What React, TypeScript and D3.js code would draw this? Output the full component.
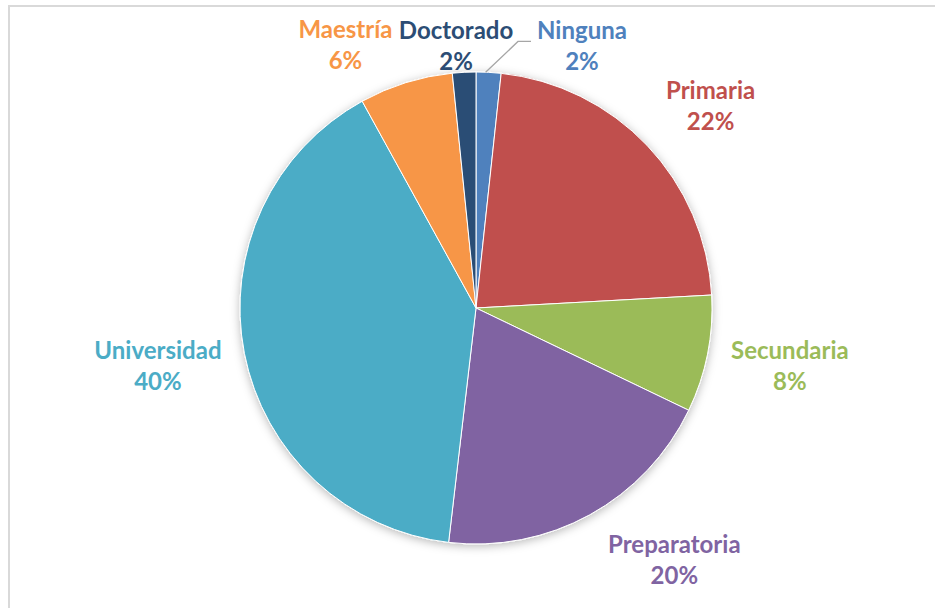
import { useMemo } from "react";
import { pie, arc, PieArcDatum } from "d3";

// Nivel de estudios (in %)
const categories = ["Ninguna", "Primaria", "Secundaria", "Preparatoria", "Universidad", "Maestría", "Doctorado"];
const values = [1.7, 22.4, 8.0, 19.7, 40.1, 6.4, 1.6];
const colors = ["#4F81BD", "#C0504D", "#9BBB59", "#8064A2", "#4BACC6", "#F79646", "#2C4D75"];

// label nudges away from the plain centroid (like Excel's best fit)
const labelNudge: Record<string, [number, number]> = {
  Ninguna: [89, 57],
  Primaria: [4, 18],
  Secundaria: [2, -3],
  Preparatoria: [45, -26],
  Universidad: [-6, -2],
  Maestría: [-36, 42],
  Doctorado: [-4, 57],
};

const width = 935;
const height = 608;
const cx = 476;
const cy = 308;
const radius = 236;
const labelRadius = 318;

type Slice = { name: string; value: number; color: string };

export default function App() {
  const rows: Slice[] = categories.map((name, i) => ({ name, value: values[i], color: colors[i] }));
  const total = values.reduce((a, b) => a + b, 0);

  const arcs = useMemo(() => pie<Slice>().sort(null).value((d) => d.value)(rows), []);
  const sliceArc = arc<PieArcDatum<Slice>>().innerRadius(0).outerRadius(radius);
  const labelArc = arc<PieArcDatum<Slice>>().innerRadius(labelRadius).outerRadius(labelRadius);
  const edgeArc = arc<PieArcDatum<Slice>>().innerRadius(radius).outerRadius(radius);

  return (
    <svg width={width} height={height} style={{ position: "absolute", left: 0, top: 0, background: "#fff" }}>
      <defs>
        <filter id="shadow" x="-20%" y="-20%" width="140%" height="140%">
          <feDropShadow dx="0" dy="2" stdDeviation="5" floodColor="#000" floodOpacity="0.28" />
        </filter>
      </defs>

      {/* chart frame */}
      <path d={`M9,${height} V6 H${width}`} fill="none" stroke="#d9d9d9" strokeWidth={2} />

      <g transform={`translate(${cx},${cy})`}>
        <g filter="url(#shadow)">
          {arcs.map((d) => (
            <path key={d.data.name} d={sliceArc(d) || ""} fill={d.data.color} stroke="#fff" strokeWidth={1} />
          ))}
        </g>

        {arcs.map((d) => {
          const [lx, ly] = labelArc.centroid(d);
          const [nx, ny] = labelNudge[d.data.name] || [0, 0];
          const x = lx + nx;
          const y = ly + ny;
          const pct = Math.round((d.data.value / total) * 100);
          // leader line when the label was pushed well away from its slice
          const moved = Math.hypot(nx, ny) > 80;
          let leader = null;
          if (moved) {
            const [ex, ey] = edgeArc.centroid(d);
            const hy = y - 6;
            const endX = x - 51;
            leader = (
              <path
                d={`M${ex - 3},${ey} L${endX - 13},${hy} H${endX}`}
                fill="none"
                stroke="#a6a6a6"
                strokeWidth={1.3}
              />
            );
          }
          return (
            <g key={"l" + d.data.name}>
              {leader}
              <text
                x={x}
                textAnchor="middle"
                fill={d.data.color}
                fontFamily="Lato, 'Open Sans', sans-serif"
                fontWeight={700}
                fontSize={24}
              >
                <tspan x={x} y={y - 8}>{d.data.name}</tspan>
                <tspan x={x} y={y + 23}>{pct}%</tspan>
              </text>
            </g>
          );
        })}
      </g>
    </svg>
  );
}
